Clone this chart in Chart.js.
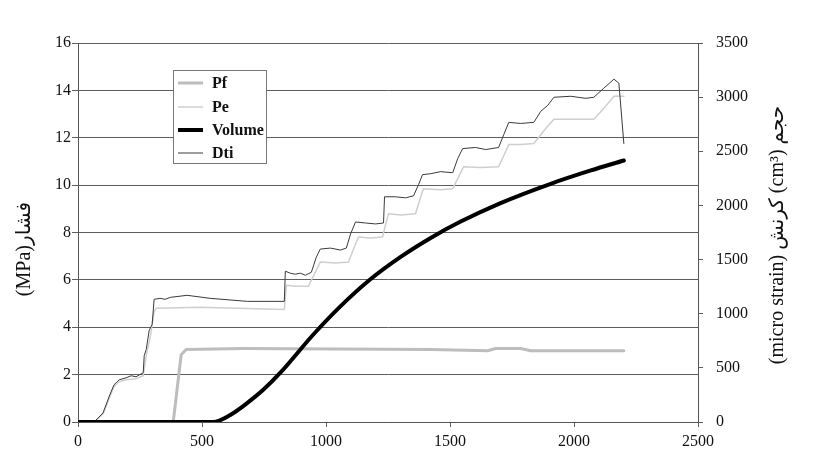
<!DOCTYPE html>
<html>
<head>
<meta charset="utf-8">
<script src="https://cdn.jsdelivr.net/npm/chart.js@4/dist/chart.umd.min.js"></script>
<style>
  html, body { margin: 0; padding: 0; background: #fff; }
  #c { display: block; }
</style>
</head>
<body>
<canvas id="c" width="820" height="457"></canvas>
<script>
// values
var seriesNames = ['Pf', 'Pe', 'Volume', 'Dti']

var pfX = [0, 384, 416, 436, 666, 1422, 1652, 1684, 1785, 1826, 2201]
var pfY = [0, 0, 2.84, 3.06, 3.10, 3.06, 3.01, 3.10, 3.10, 3.01, 3.01]

var peX = [0, 65, 101, 125, 145, 166, 194, 234, 263, 275, 291, 307, 315, 493, 832, 840, 876, 929, 953, 977,
  1038, 1091, 1111, 1131, 1179, 1228, 1240, 1252, 1301, 1361, 1377, 1393, 1462, 1511, 1535, 1555, 1624, 1696, 1717, 1737,
  1785, 1838, 1886, 1919, 1987, 2080, 2120, 2161, 2201]
var peY = [0, 0, 0.34, 0.98, 1.49, 1.70, 1.78, 1.83, 1.95, 2.80, 3.57, 4.67, 4.80, 4.84, 4.75, 5.77, 5.73, 5.73, 6.24, 6.75,
  6.71, 6.75, 7.30, 7.81, 7.77, 7.81, 8.32, 8.79, 8.74, 8.79, 9.34, 9.85, 9.80, 9.85, 10.36, 10.78, 10.74, 10.78, 11.25, 11.71,
  11.71, 11.76, 12.39, 12.78, 12.78, 12.78, 13.24, 13.75, 13.75]

var volX = [0, 545, 614, 683, 747, 816, 949, 1058, 1179, 1301, 1422, 1543, 1704, 1906, 2068, 2201]
var volY = [0, 0, 65, 176, 297, 455, 808, 1068, 1318, 1525, 1700, 1851, 2022, 2200, 2323, 2415]

var dtiX = [0, 65, 101, 125, 145, 166, 194, 214, 234, 263, 267, 275, 287, 299, 307, 331, 351, 372, 440, 533,
  683, 832, 836, 856, 876, 897, 917, 941, 961, 977, 1018, 1058, 1082, 1099, 1119, 1159, 1200, 1232, 1236, 1280,
  1321, 1353, 1373, 1389, 1422, 1462, 1511, 1531, 1551, 1603, 1644, 1696, 1717, 1737, 1785, 1838, 1866, 1894, 1919, 1987,
  2048, 2080, 2120, 2161, 2181, 2201]
var dtiY = [0, 0, 84, 232, 343, 390, 408, 427, 418, 455, 613, 668, 845, 901, 1133, 1142, 1133, 1151, 1170, 1142,
  1114, 1114, 1393, 1374, 1365, 1374, 1355, 1383, 1523, 1597, 1606, 1588, 1606, 1736, 1847, 1838, 1829, 1838, 2080, 2080,
  2070, 2089, 2191, 2284, 2293, 2312, 2302, 2432, 2525, 2535, 2516, 2535, 2655, 2767, 2757, 2767, 2869, 2924, 2999, 3008,
  2989, 2999, 3082, 3166, 3129, 2572]

var leftTitle = '(MPa)فشار'
var rightTitle = '(micro strain) کرنش (cm³) حجم'

function pts(xs, ys){
  return xs.map(function(x, i){ return { x: x, y: ys[i] } })
}

function plain(v){ return String(v) }

var tickFont = { family: '"Liberation Serif", "Times New Roman", serif', size: 16 }
var inkColor = '#111'
var gridColor = '#5e5e5e'

// legend box sitting inside the plot, like the original
var boxLegend = {
  id: 'boxLegend',
  afterDraw: function(chart){
    var ctx = chart.ctx
    var x0 = 173, y0 = 70, w = 93, h = 93
    ctx.save()
    ctx.fillStyle = '#fff'
    ctx.fillRect(x0, y0, w, h)
    ctx.strokeStyle = '#777'
    ctx.lineWidth = 1
    ctx.strokeRect(x0 + 0.5, y0 + 0.5, w, h)
    ctx.font = 'bold 16px "Liberation Serif", serif'
    ctx.textBaseline = 'middle'
    ctx.fillStyle = inkColor
    var rowY = [83, 107, 130, 153]
    seriesNames.forEach(function(name, i){
      var ds = chart.data.datasets[i]
      ctx.beginPath()
      ctx.strokeStyle = ds.borderColor
      ctx.lineWidth = ds.borderWidth
      ctx.moveTo(178, rowY[i])
      ctx.lineTo(203, rowY[i])
      ctx.stroke()
      ctx.fillText(name, 212, rowY[i] + 1)
    })
    ctx.restore()
  }
}

// rotated axis titles, both read bottom-to-top
var sideTitles = {
  id: 'sideTitles',
  afterDraw: function(chart){
    var ctx = chart.ctx
    ctx.save()
    ctx.fillStyle = inkColor
    ctx.font = '20px "Liberation Serif", "DejaVu Sans", serif'
    ctx.textAlign = 'center'
    ctx.textBaseline = 'middle'
    ctx.translate(25, 249)
    ctx.rotate(-Math.PI / 2)
    ctx.fillText(leftTitle, 0, 0)
    ctx.restore()

    ctx.save()
    ctx.fillStyle = inkColor
    ctx.font = '20px "Liberation Serif", "DejaVu Sans", serif'
    ctx.textAlign = 'center'
    ctx.textBaseline = 'middle'
    ctx.translate(778, 235)
    ctx.rotate(-Math.PI / 2)
    ctx.fillText(rightTitle, 0, 0)
    ctx.restore()
  }
}

new Chart(document.getElementById('c'), {
  type: 'line',
  data: {
    datasets: [
      { label: seriesNames[0], data: pts(pfX, pfY), yAxisID: 'y', borderColor: '#bdbdbd', borderWidth: 3, order: 3 },
      { label: seriesNames[1], data: pts(peX, peY), yAxisID: 'y', borderColor: '#cfcfcf', borderWidth: 1.5, order: 2 },
      { label: seriesNames[2], data: pts(volX, volY), yAxisID: 'y1', borderColor: '#000', borderWidth: 4,
        cubicInterpolationMode: 'monotone', order: 0 },
      { label: seriesNames[3], data: pts(dtiX, dtiY), yAxisID: 'y1', borderColor: '#3a3a3a', borderWidth: 1, order: 1 }
    ]
  },
  options: {
    responsive: false,
    animation: false,
    devicePixelRatio: 1,
    layout: { padding: { top: 43, left: 0, right: 0, bottom: 0 } },
    elements: { point: { radius: 0 }, line: { tension: 0, borderCapStyle: 'round', borderJoinStyle: 'round' } },
    plugins: { legend: { display: false }, tooltip: { enabled: false } },
    scales: {
      x: {
        type: 'linear', min: 0, max: 2500,
        afterFit: function(s){ s.height = 35 },
        ticks: { stepSize: 500, color: inkColor, font: tickFont, padding: 5, maxRotation: 0, callback: plain },
        grid: { drawOnChartArea: false, tickLength: 5, color: gridColor },
        border: { color: '#555', width: 1 }
      },
      y: {
        position: 'left', min: 0, max: 16,
        afterFit: function(s){ s.width = 78 },
        ticks: { stepSize: 2, color: inkColor, font: tickFont, padding: 1, callback: plain },
        grid: { color: gridColor, lineWidth: 1, tickLength: 6 },
        border: { color: '#555', width: 1 }
      },
      y1: {
        position: 'right', min: 0, max: 3500,
        afterFit: function(s){ s.width = 122 },
        ticks: { stepSize: 500, color: inkColor, font: tickFont, padding: 13, callback: plain },
        grid: { drawOnChartArea: false, tickLength: 5, color: gridColor },
        border: { color: '#555', width: 1 }
      }
    }
  },
  plugins: [boxLegend, sideTitles]
})
</script>
</body>
</html>
